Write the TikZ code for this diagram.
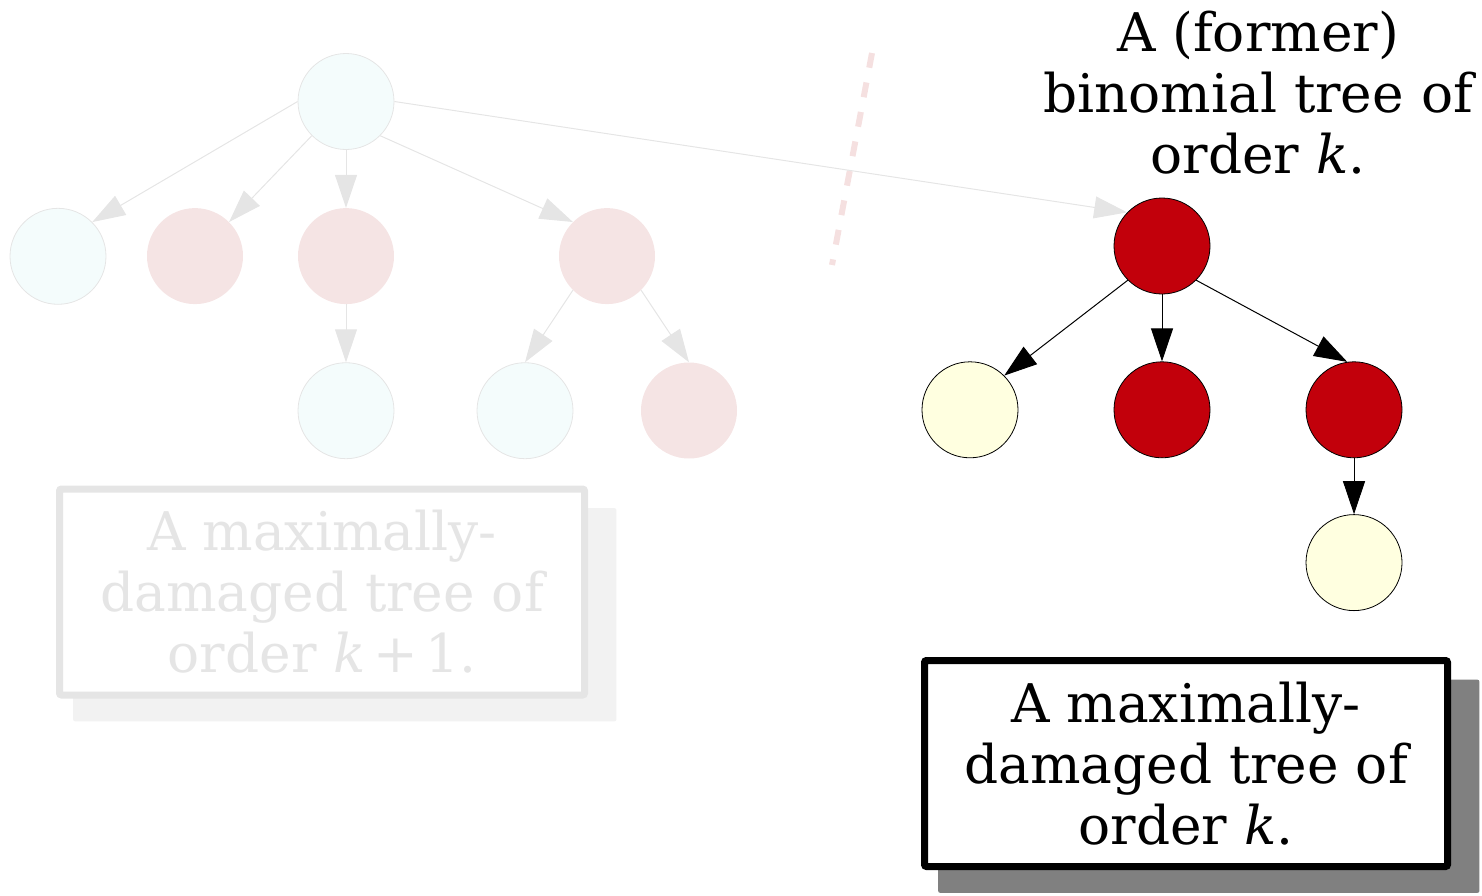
\documentclass[tikz,border=0pt]{standalone}
\usepackage{fontspec}
\setmainfont{DejaVu Serif}
\usepackage{tikz}
\usetikzlibrary{arrows.meta,positioning,shadows}
\usepackage{xcolor}
\definecolor{heapred}{HTML}{C2000B}
\definecolor{heapyellow}{HTML}{FFFFE0}
\definecolor{fadecyan}{HTML}{F4FCFC}
\definecolor{fadepink}{HTML}{F5E4E4}
\definecolor{fadegray}{HTML}{E5E5E5}
\definecolor{fadeshadow}{HTML}{F2F2F2}
\definecolor{cutpink}{HTML}{F5E0E0}

\begin{document}
\begin{tikzpicture}[
    x=1pt, y=-1pt,
    node distance=58pt,
    heap/.style={circle, minimum size=96pt, inner sep=0pt},
    oldblue/.style={heap, draw=fadegray, line width=0.8pt, fill=fadecyan},
    oldred/.style={heap, fill=fadepink},
    rednode/.style={heap, draw=black, line width=0.8pt, fill=heapred},
    yellownode/.style={heap, draw=black, line width=0.8pt, fill=heapyellow},
    caption/.style={font=\fontsize{53.3}{61}\selectfont, align=center},
    treebox/.style={caption, rectangle, rounded corners=2pt, line width=7pt, fill=white, minimum height=206pt},
    newbox/.style={treebox, minimum width=523pt, draw=black, drop shadow={shadow xshift=22pt, shadow yshift=-22pt, shadow scale=1.035, fill=black!50, opacity=1}},
    oldbox/.style={treebox, minimum width=525pt, draw=fadegray, text=fadegray, drop shadow={shadow xshift=22pt, shadow yshift=-22pt, shadow scale=1.035, fill=fadeshadow, opacity=1}},
    arrow/.style={line width=1pt, -{Triangle[length=33pt, width=22pt]}},
    oldarrow/.style={arrow, draw=fadegray}
]
\useasboundingbox (0,0) rectangle (1482,895);

% cut between the two trees
\coordinate (cuttop) at (872,53);
\coordinate (cutbot) at (832,265);
\draw [cutpink, line width=6pt, dash pattern=on 15pt off 15pt] (cuttop) -- (cutbot);

% faded tree of order k+1
\node (oroot) [oldblue] at (346,101.5) {};
\node (f1) [oldblue, below=of oroot, xshift=-288pt] {};
\node (f2) [oldred, below=of oroot, xshift=-151pt] {};
\node (f3) [oldred, below=of oroot] {};
\node (f4) [oldred, below=of oroot, xshift=261pt] {};
\node (g1) [oldblue, below=of f3] {};
\node (g2) [oldblue, below=of f4, xshift=-82pt] {};
\node (g3) [oldred, below=of f4, xshift=82pt] {};

% cut-off tree of order k
\node (rroot) [rednode] at (1162,246) {};
\node (y1) [yellownode, below=67pt of rroot, xshift=-192pt] {};
\node (r2) [rednode, below=67pt of rroot] {};
\node (r3) [rednode, below=67pt of rroot, xshift=192pt] {};
\node (y2) [yellownode, below=56pt of r3] {};

% captions
\node (title) [caption] at (1258,93) {A (former)\\binomial tree of\\order \textit{k}.};
\node (newlabel) [newbox] at (1186,763.5) {A maximally-\\damaged tree of\\order \textit{k}.};
\node (oldlabel) [oldbox] at (322,592) {A maximally-\\damaged tree of\\order \textit{k}\kern0.14em+\kern0.14em1.};

% faded arrows
\draw [oldarrow] (oroot.180) -- (f1.45);
\draw [oldarrow] (oroot.225) -- (f2.45);
\draw [oldarrow] (oroot) -- (f3);
\draw [oldarrow] (oroot.-45) -- (f4.135);
\draw [oldarrow] (oroot.0) -- (rroot.136);
\draw [oldarrow] (f3) -- (g1);
\draw [oldarrow] (f4.225) -- (g2.north);
\draw [oldarrow] (f4.-45) -- (g3.north);

% arrows of the cut-off tree
\draw [arrow] (rroot.225) -- (y1.45);
\draw [arrow] (rroot) -- (r2);
\draw [arrow] (rroot.-45) -- (r3.98);
\draw [arrow] (r3) -- (y2);

\end{tikzpicture}
\end{document}
